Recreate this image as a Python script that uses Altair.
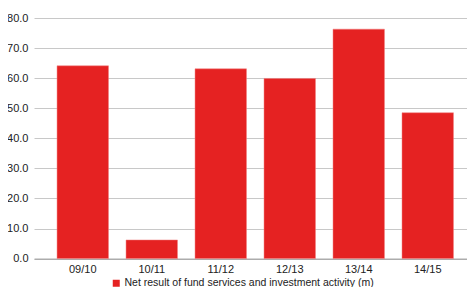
import altair as alt
import pandas as pd

categories = ["09/10", "10/11", "11/12", "12/13", "13/14", "14/15"]
values = [64.1, 6.2, 63.1, 59.9, 76.3, 48.5]
series_name = "Net result of fund services and investment activity (m)"

df = pd.DataFrame({"year": categories, "value": values, "series": [series_name] * len(categories)})

FONT = "Liberation Sans"

chart = alt.Chart(df).mark_bar(color="#e52222", stroke="#f08080", strokeWidth=0.5).encode(
    x=alt.X("year:N", sort=categories, title=None,
            scale=alt.Scale(paddingInner=0.254, paddingOuter=0.265, align=0.63),
            axis=alt.Axis(labelAngle=0, ticks=False, domain=True, domainColor="#999999",
                          labelFont=FONT, labelFontSize=11, labelColor="#222222",
                          labelPadding=5, grid=False)),
    y=alt.Y("value:Q", title=None,
            scale=alt.Scale(domain=[0, 80], nice=False),
            axis=alt.Axis(values=[0, 10, 20, 30, 40, 50, 60, 70, 80], format=".1f",
                          ticks=False, domain=False, gridColor="#c8c8c8", gridWidth=1,
                          labelFont=FONT, labelFontSize=11, labelColor="#222222",
                          labelPadding=6)),
    color=alt.Color("series:N", scale=alt.Scale(range=["#e52222"]),
                    legend=alt.Legend(title=None, orient="none", legendX=77, legendY=260,
                                      symbolType="square", symbolSize=49, symbolStrokeWidth=0,
                                      labelOffset=3,
                                      labelFont=FONT, labelFontSize=10.5, labelColor="#222222",
                                      labelLimit=400, padding=0)),
).properties(
    width=433, height=240.6,
    padding={"left": 26, "top": 10, "right": 0, "bottom": 28.4},
    autosize="none",
).configure_view(stroke=None)

chart.save("out.html", embed_options={"renderer": "svg", "actions": False})
